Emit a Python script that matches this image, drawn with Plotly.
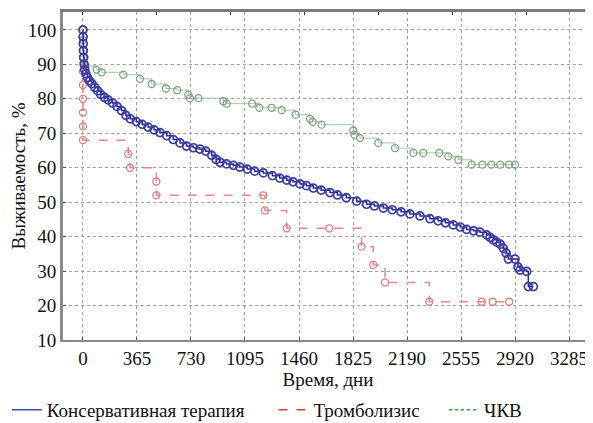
import plotly.graph_objects as go

# ---- data ----
x_ticks = [0, 365, 730, 1095, 1460, 1825, 2190, 2555, 2920, 3285]
y_ticks = [10, 20, 30, 40, 50, 60, 70, 80, 90, 100]

cons_days = [0, 1, 2, 3, 5, 8, 12, 20, 30, 45, 60, 80, 100, 120, 145, 170, 200, 230, 260, 290,
             320, 360, 400, 440, 480, 520, 566, 610, 656, 700, 746, 790, 830, 870, 900, 926,
             970, 1016, 1060, 1110, 1160, 1219, 1280, 1330, 1377, 1420, 1467, 1510, 1557, 1610,
             1669, 1720, 1780, 1850, 1917, 1970, 2030, 2090, 2150, 2210, 2278, 2345, 2400, 2450,
             2503, 2550, 2593, 2640, 2683, 2728, 2751, 2773, 2796, 2820, 2841, 2860, 2875, 2920,
             2940, 2954, 2999, 3010, 3044]
cons_surv = [100, 98, 96, 94, 92, 90, 88.5, 87.3, 86.2, 85.2, 84.4, 83.3, 82.3, 81.3, 80.4, 79.7,
             78.8, 77.8, 76.6, 75.2, 74.2, 73.4, 72.6, 71.8, 71.0, 70.2, 69.3, 68.2, 67.2, 66.3,
             65.8, 65.4, 64.8, 63.6, 62.4, 61.6, 61.1, 60.7, 60.2, 59.6, 59.0, 58.5, 57.7, 57.0,
             56.4, 55.9, 55.3, 54.8, 54.1, 53.5, 52.8, 52.1, 51.3, 50.3, 49.4, 48.9, 48.3, 47.8,
             47.2, 46.6, 46.0, 45.2, 44.6, 44.0, 43.4, 42.8, 42.1, 41.7, 41.3, 40.5, 39.8, 39.1,
             38.4, 37.8, 36.6, 35.2, 33.5, 33.5, 31.2, 30.3, 29.9, 25.5, 25.5]

thromb_days = [0, 0, 0, 0, 0, 0, 0, 306, 318, 496, 496, 1219, 1230, 1377, 1665, 1883, 1962, 2041,
               2341, 2695, 2769, 2881]
thromb_surv = [100, 88, 84, 80, 76, 72, 68, 64, 60, 56, 52, 52, 47.6, 42.4, 42.4, 37.1, 31.8, 26.7,
               21.1, 21.1, 21.1, 21.1]

pci_days = [0, 0, 0, 0, 5, 14, 92, 126, 272, 385, 464, 561, 637, 712, 723, 780, 949, 971, 1144,
            1192, 1275, 1343, 1437, 1534, 1552, 1613, 1827, 1835, 1872, 1996, 2109, 2233, 2300,
            2408, 2469, 2537, 2627, 2700, 2760, 2820, 2880, 2920]
pci_surv = [100, 97, 94, 92, 90.5, 89.5, 88.5, 87.7, 87.0, 85.8, 84.3, 83.0, 82.5, 81.2, 80.2,
            80.2, 79.3, 78.6, 78.6, 77.4, 77.4, 76.7, 75.4, 74.2, 73.3, 72.5, 70.8, 69.6, 68.6,
            67.2, 65.7, 64.3, 64.3, 64.3, 63.3, 62.3, 60.9, 60.9, 60.9, 60.9, 60.9, 60.9]

names = ["Консервативная терапия", "Тромболизис", "ЧКВ"]

FONT = "Liberation Serif, Tinos, Times New Roman, DejaVu Serif"
TXT = "#111111"
FS = 19

fig = go.Figure()

fig.add_trace(go.Scatter(x=pci_days, y=pci_surv, mode="lines+markers", line_shape="hv",
                         line=dict(color="#9cc89c", width=1),
                         marker=dict(symbol="circle-open", size=7, color="#7f9f82",
                                     line=dict(width=1.3)),
                         showlegend=False))
fig.add_trace(go.Scatter(x=thromb_days, y=thromb_surv, mode="lines+markers", line_shape="hv",
                         line=dict(color="#e58a8a", width=1.5, dash="dash"),
                         marker=dict(symbol="circle-open", size=7, color="#e07a7a",
                                     line=dict(width=1.3)),
                         showlegend=False))
fig.add_trace(go.Scatter(x=cons_days, y=cons_surv, mode="lines+markers", line_shape="hv",
                         line=dict(color="#2a2a8c", width=1.5),
                         marker=dict(symbol="circle-open", size=8, color="#3c3ca6",
                                     line=dict(width=1.7)),
                         showlegend=False))

leg_styles = [dict(color="#3b4ea3", width=1.5),
              dict(color="#e03a3a", width=1.5, dash="dash"),
              dict(color="#2ca03c", width=1.5, dash="dot")]
leg_ids = ["legend", "legend2", "legend3"]
for nm, st, lid in zip(names, leg_styles, leg_ids):
    fig.add_trace(go.Scatter(x=[None], y=[None], mode="lines", line=st, name=nm,
                             showlegend=True, legend=lid))

leg_common = dict(orientation="h", yanchor="middle", xanchor="left", bgcolor="rgba(0,0,0,0)",
                  font=dict(family=FONT, size=FS, color=TXT), borderwidth=0)

fig.update_layout(
    width=585, height=415,
    margin=dict(l=55, r=0, t=4, b=83, autoexpand=False),
    paper_bgcolor="white", plot_bgcolor="white",
    font=dict(family=FONT, size=FS, color=TXT),
    legend=dict(x=-0.106, y=-0.213, **leg_common),
    legend2=dict(x=0.397, y=-0.213, **leg_common),
    legend3=dict(x=0.719, y=-0.213, **leg_common),
    xaxis=dict(range=[-135, 3447], tickvals=x_ticks, ticktext=[str(v) for v in x_ticks],
               showgrid=True, gridcolor="#a0a0a0", griddash="dot", gridwidth=1,
               showline=True, linecolor="#8a8a8a", linewidth=2, ticks="inside",
               ticklen=3, tickcolor="#555", zeroline=False, automargin=False,
               tickfont=dict(family=FONT, size=FS, color=TXT),
               title=dict(text="Время, дни", font=dict(family=FONT, size=FS, color=TXT),
                          standoff=2)),
    xaxis2=dict(range=[-135, 3447], overlaying="x", side="top", dtick=500, tick0=0,
                showticklabels=False, showgrid=False, showline=True, linecolor="#7a7a7a",
                linewidth=3, ticks="inside", ticklen=3, tickcolor="#333", zeroline=False,
                automargin=False),
    yaxis=dict(range=[10, 105.2], tickvals=y_ticks, showgrid=True, gridcolor="#a0a0a0",
               griddash="dot", gridwidth=1, showline=True, linecolor="#8a8a8a", linewidth=3,
               ticks="inside", ticklen=3, tickcolor="#555", zeroline=False, automargin=False,
               tickfont=dict(family=FONT, size=FS, color=TXT),
               title=dict(text="Выживаемость, %", font=dict(family=FONT, size=FS, color=TXT),
                          standoff=3)),
)
fig.add_trace(go.Scatter(x=[None], y=[None], xaxis="x2", showlegend=False))

fig.write_html("out.html")
